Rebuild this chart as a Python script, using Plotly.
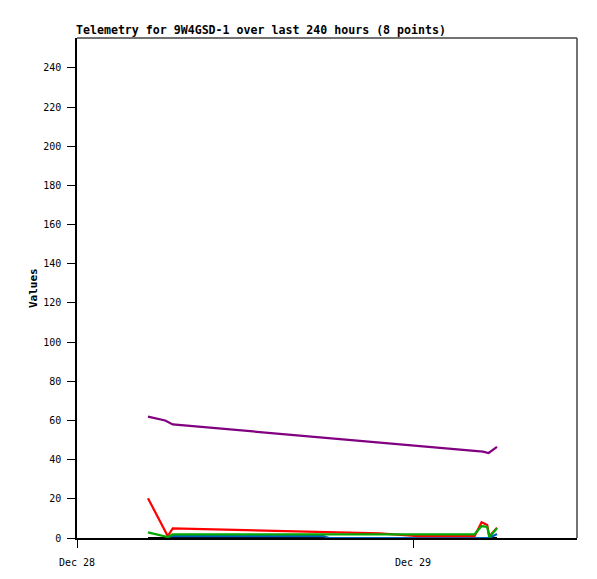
import plotly.graph_objects as go
from datetime import datetime, timedelta

BASE = datetime(2023, 12, 28)

def ts(hours):
    return [BASE + timedelta(hours=h) for h in hours]

# Series (hours after Dec 28 00:00, values)
black_t = [5.07, 30.0]
black_v = [0, 0]

blue_t = [6.48, 6.84, 17.6, 18.0, 29.45, 29.7, 30.0]
blue_v = [0.5, 1.0, 1.0, 0.0, 0.0, 1.0, 2.0]

red_t = [5.07, 6.48, 6.84, 21.6, 24.4, 28.4, 28.9, 29.3, 29.45, 30.0]
red_v = [20.3, 1.0, 4.9, 2.4, 1.0, 1.0, 8.0, 6.6, 0.8, 5.3]

green_t = [5.07, 6.48, 6.84, 28.4, 28.9, 29.3, 29.45, 30.0]
green_v = [2.9, 0.5, 1.9, 1.9, 6.1, 5.6, 0.5, 5.0]

purple_t = [5.07, 6.3, 6.84, 29.0, 29.4, 30.0]
purple_v = [62.0, 60.0, 58.0, 44.1, 43.4, 46.5]

tick_vals = [BASE, BASE + timedelta(days=1)]
tick_text = ["Dec 28", "Dec 29"]
y_ticks = list(range(0, 241, 20))

x_range = [BASE, BASE + timedelta(hours=500 / 14)]

fig = go.Figure()
series = [
    (black_t, black_v, "#000000"),
    (blue_t, blue_v, "#0060c0"),
    (red_t, red_v, "#ff0000"),
    (green_t, green_v, "#00a800"),
    (purple_t, purple_v, "#800080"),
]
for t, v, c in series:
    fig.add_trace(go.Scatter(x=ts(t), y=v, mode="lines",
                             line=dict(color=c, width=2.2), showlegend=False,
                             hoverinfo="skip"))

mono = "DejaVu Sans Mono"
fig.update_layout(
    width=597, height=579,
    margin=dict(l=69, r=28, t=30, b=49),
    plot_bgcolor="white", paper_bgcolor="white",
    font=dict(family=mono, size=10, color="black"),
    showlegend=False,
    xaxis=dict(range=x_range, tickvals=tick_vals, ticktext=tick_text,
               showgrid=False, zeroline=False, showline=True, linecolor="black",
               linewidth=1.5, ticks="outside", ticklen=8, tickcolor="black",
               ticklabelstandoff=6,
               tickfont=dict(family=mono, size=10)),
    yaxis=dict(range=[0, 255.3], tickvals=y_ticks, showgrid=False, zeroline=False,
               showline=True, linecolor="black", linewidth=1.5, ticks="outside",
               ticklen=8, tickcolor="black", ticklabelstandoff=4,
               tickfont=dict(family=mono, size=10)),
    shapes=[
        dict(type="line", xref="paper", yref="paper", x0=0, x1=1, y0=1, y1=1,
             line=dict(color="#444444", width=1.5)),
        dict(type="line", xref="paper", yref="paper", x0=1, x1=1, y0=0, y1=1,
             line=dict(color="#444444", width=1.5)),
    ],
    annotations=[
        dict(text="<b>Telemetry for 9W4GSD-1 over last 240 hours (8 points)</b>",
             xref="paper", yref="paper", x=0, y=1, xanchor="left", yanchor="bottom",
             xshift=-3, yshift=-1, showarrow=False, font=dict(family=mono, size=11.6)),
        dict(text="<b>Values</b>", xref="paper", yref="paper", x=-0.088, y=0.5,
             xanchor="center", yanchor="middle", textangle=-90, showarrow=False,
             font=dict(family=mono, size=11)),
    ],
)

fig.write_html("out.html")
